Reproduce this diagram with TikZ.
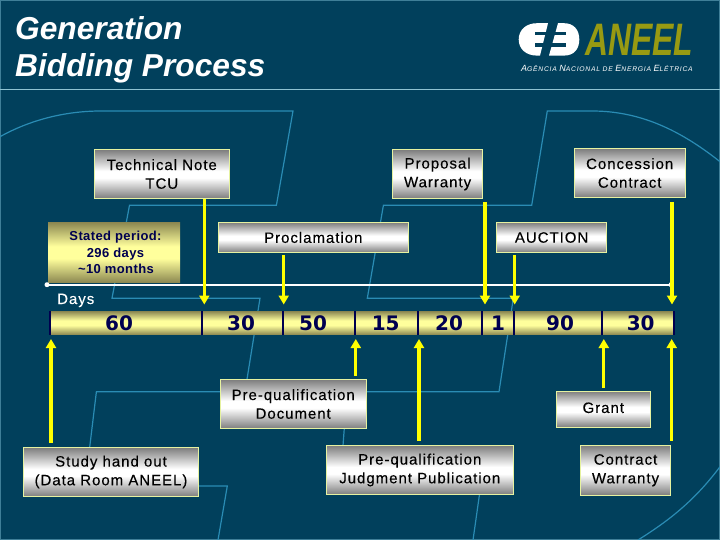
\documentclass[tikz,border=0pt]{standalone}
\usepackage{fontspec}
\setmainfont{Liberation Sans}
\newfontfamily\spaced[LetterSpace=6.5,FakeBold=0.25]{Liberation Sans}
\newfontfamily\spacedb[LetterSpace=3]{Liberation Sans}
\newfontfamily\numfont{DejaVu Sans}
\newfontfamily\subfont[LetterSpace=10.5]{Liberation Sans}
\usetikzlibrary{arrows.meta}
\definecolor{bgblue}{HTML}{01405C}
\definecolor{bgline}{HTML}{2A8CB4}
\definecolor{edgeline}{HTML}{3F7F98}
\definecolor{ruleline}{HTML}{8FC3D2}
\definecolor{silverend}{HTML}{7C7C7C}
\definecolor{boxedge}{HTML}{E6F2A0}
\definecolor{olivend}{HTML}{8A8650}
\definecolor{paleyellow}{HTML}{FFFF9C}
\definecolor{navy}{HTML}{000050}
\definecolor{arrowyellow}{HTML}{FFFF00}
\definecolor{aneel}{HTML}{989A12}
\pgfdeclareverticalshading{silversh}{100bp}{color(0bp)=(silverend); color(25bp)=(silverend); color(46bp)=(white); color(53bp)=(white); color(75bp)=(silverend); color(100bp)=(silverend)}
\pgfdeclareverticalshading{olivesh}{100bp}{color(0bp)=(olivend); color(25bp)=(olivend); color(45bp)=(paleyellow); color(55bp)=(paleyellow); color(75bp)=(olivend); color(100bp)=(olivend)}
\tikzset{
  silverbox/.style={rectangle,draw=boxedge,line width=0.9pt,inner sep=0pt,
    shading=silversh,align=center,text=black,font=\fontsize{15}{18.7}\selectfont\spaced},
  olivebox/.style={rectangle,inner sep=0pt,shading=olivesh,
    align=center,text=navy,font=\fontsize{13}{16.5}\selectfont\bfseries\spacedb},
  barnum/.style={inner sep=0pt,text=navy,font=\fontsize{20}{20}\selectfont\numfont\bfseries},
  yarrow/.style={draw=arrowyellow,line width=3.2pt,-{Triangle[width=10pt,length=9pt]}},
  tickline/.style={draw=navy,line width=1.4pt},
  bgcurve/.style={draw=bgline,line width=1.2pt},
  whitedot/.style={circle,fill=white,inner sep=0pt,minimum size=5pt},
  timeline/.style={draw=white,line width=1.6pt},
}
\begin{document}
\begin{tikzpicture}[x=1pt,y=-1pt]
\useasboundingbox (0,0) rectangle (720,540);
\fill[bgblue] (0,0) rectangle (720,540);
\draw[edgeline,line width=1pt] (0.5,0.5) rectangle (719.5,539.5);
\draw[ruleline,line width=1pt] (0,89.5) -- (720,89.5);
% background artwork
\draw[bgcurve] (0,136.7) .. controls (30,120) and (65,111) .. (101,111) -- (293,111) -- (276.4,205.3)
  -- (129.5,205.3) -- (112,298.3) -- (260,298.3) -- (245,391.7);
\draw[bgcurve] (720,161.7) .. controls (680,130) and (640,111) .. (592,111) -- (547.3,111) -- (531.7,205.3)
  -- (383.4,205.3) -- (367.3,298.3) -- (513.3,298.3) -- (499,391.7) -- (96.4,391.7) -- (85,486)
  -- (227.3,486) -- (218,540);
\draw[bgcurve] (347,391.7) -- (340,486) -- (480.7,486) -- (473,540);
\draw[bgcurve] (720,466.7) .. controls (695,500) and (670,520) .. (638,540);
% title
\node[anchor=base west,inner sep=0pt,text=white,font=\fontsize{31.7}{32}\selectfont\bfseries\itshape] (title1) at (15,39.5) {Generation};
\node[anchor=base west,inner sep=0pt,text=white,font=\fontsize{31.7}{32}\selectfont\bfseries\itshape] (title2) at (15,77) {Bidding Process};
% logo
\fill[white] (548,23.2) -- (537,23.2) .. controls (526,23.2) and (518.7,30) .. (518.7,39.5)
  .. controls (518.7,49) and (526,55.6) .. (537,55.6) -- (540,55.6) -- cycle;
\fill[white] (558,23.2) -- (564,23.2) .. controls (574,23.2) and (579.3,30) .. (579.3,39.5)
  .. controls (579.3,49) and (574,55.6) .. (564,55.6) -- (549,55.6) -- cycle;
\fill[bgblue] (535,32) rectangle (566,35);
\fill[bgblue] (535,43.5) rectangle (566,46.7);
\node[anchor=base west,inner sep=0pt,text=aneel,xscale=0.7,font=\fontsize{45.5}{45.5}\selectfont\bfseries\itshape] (aneelmark) at (585,55.7) {ANEEL};
\node[anchor=base west,inner sep=0pt,text=white,font=\itshape\subfont] (aneelsub) at (521,72)
  {\fontsize{9}{10}\selectfont A\fontsize{6.8}{10}\selectfont GÊNCIA \fontsize{9}{10}\selectfont N\fontsize{6.8}{10}\selectfont ACIONAL DE \fontsize{9}{10}\selectfont E\fontsize{6.8}{10}\selectfont NERGIA \fontsize{9}{10}\selectfont E\fontsize{6.8}{10}\selectfont LÉTRICA};
% top boxes
\node[silverbox,minimum width=135,minimum height=49] (tn) at (161.8,174) {Technical Note\\TCU};
\node[silverbox,minimum width=90,minimum height=49] (pw) at (437.6,174) {Proposal\\Warranty};
\node[silverbox,minimum width=111,minimum height=49] (cc) at (629.7,173) {Concession\\Contract};
\node[olivebox,minimum width=132,minimum height=60.7] (sp) at (114,252.4) {\hspace*{3pt}Stated period:\\\hspace*{3pt}296 days\\\hspace*{4pt}\textasciitilde10 months};
\node[silverbox,minimum width=190,minimum height=30.4] (pr) at (313.3,237.5) {Proclamation};
\node[silverbox,minimum width=110,minimum height=30.4] (au) at (551.6,237.5) {AUCTION};
% timeline
\coordinate (tl1) at (47,284.7);
\coordinate (tl2) at (671,284.7);
\draw[timeline] (tl1) -- (tl2);
\node[whitedot] (dot1) at (tl1) {};
\node[whitedot] (dot2) at (tl2) {};
\node[anchor=base west,inner sep=0pt,text=white,font=\fontsize{15}{15}\selectfont\spaced] (days) at (57,304) {Days};
% bar
\node[rectangle,inner sep=0pt,minimum width=624,minimum height=23.7,shading=olivesh] (bar) at (362,322.9) {};
\foreach \tx in {50,202,283,355,418,482,514,602,674}
  \draw[tickline] (\tx,311) -- (\tx,334.8);
\node[barnum] (n60) at (119,322.9) {60};
\node[barnum] (n30a) at (241,322.9) {30};
\node[barnum] (n50) at (313,322.9) {50};
\node[barnum] (n15) at (385.7,322.9) {15};
\node[barnum] (n20) at (449,322.9) {20};
\node[barnum] (n1) at (498,322.9) {1};
\node[barnum] (n90) at (560,322.9) {90};
\node[barnum] (n30b) at (640.7,322.9) {30};
% bottom boxes
\node[silverbox,minimum width=146.4,minimum height=49.4] (pq) at (293.2,404) {Pre-qualification\\Document};
\node[silverbox,minimum width=174.4,minimum height=49.4] (sh) at (111,472) {Study hand out\\(Data Room ANEEL)};
\node[silverbox,minimum width=187,minimum height=49.4] (pj) at (419.8,470) {Pre-qualification\\Judgment Publication};
\node[silverbox,minimum width=94.6,minimum height=36.3] (gr) at (603.3,409.2) {\raisebox{3pt}{Grant}};
\node[silverbox,minimum width=89.5,minimum height=50] (cw) at (625.5,470.3) {Contract\\Warranty};
% arrows down
\coordinate (d1s) at (204.3,199); \coordinate (d1e) at (204.3,304.5);
\coordinate (d2s) at (283.7,255); \coordinate (d2e) at (283.7,304.5);
\coordinate (d3s) at (485,202);   \coordinate (d3e) at (485,304.5);
\coordinate (d4s) at (514.7,255); \coordinate (d4e) at (514.7,304.5);
\coordinate (d5s) at (672,202);   \coordinate (d5e) at (672,304.5);
\draw[yarrow] (d1s) -- (d1e);
\draw[yarrow] (d2s) -- (d2e);
\draw[yarrow] (d3s) -- (d3e);
\draw[yarrow] (d4s) -- (d4e);
\draw[yarrow] (d5s) -- (d5e);
% arrows up
\coordinate (u1s) at (51,442.7);   \coordinate (u1e) at (51,339);
\coordinate (u2s) at (355.8,375.7);\coordinate (u2e) at (355.8,339);
\coordinate (u3s) at (419,440.7);  \coordinate (u3e) at (419,339);
\coordinate (u4s) at (603.8,388);  \coordinate (u4e) at (603.8,339);
\coordinate (u5s) at (671.7,440.7);\coordinate (u5e) at (671.7,339);
\draw[yarrow] (u1s) -- (u1e);
\draw[yarrow] (u2s) -- (u2e);
\draw[yarrow] (u3s) -- (u3e);
\draw[yarrow] (u4s) -- (u4e);
\draw[yarrow] (u5s) -- (u5e);
\end{tikzpicture}
\end{document}
